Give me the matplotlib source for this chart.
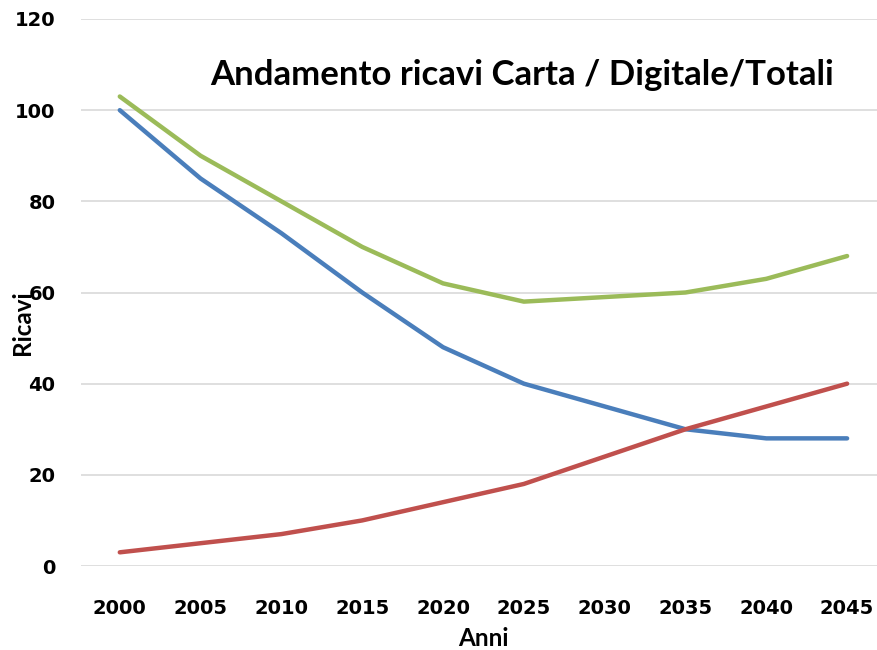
import matplotlib.pyplot as plt

# data
anni = ['2000', '2005', '2010', '2015', '2020', '2025', '2030', '2035', '2040', '2045']
totali = [103, 90, 80, 70, 62, 58, 59, 60, 63, 68]
carta = [100, 85, 73, 60, 48, 40, 35, 30, 28, 28]
digitale = [3, 5, 7, 10, 14, 18, 24, 30, 35, 40]

fig = plt.figure(figsize=(8.77, 6.5), dpi=100)
ax = fig.add_axes([81 / 877, 1 - 566 / 650, 1 - 81 / 877, (566 - 19) / 650])

x = range(len(anni))
ax.plot(x, totali, color='#9bbb59', linewidth=3.2, solid_capstyle='round')
ax.plot(x, carta, color='#4a7ebb', linewidth=3.2, solid_capstyle='round')
ax.plot(x, digitale, color='#c0504d', linewidth=3.2, solid_capstyle='round')

ax.set_xlim(-0.48, 9.37)
ax.set_ylim(0, 120)
ax.set_yticks(range(0, 121, 20))
ax.set_xticks(list(x))
ax.set_xticklabels(anni)
ax.grid(axis='y', color='#d9d9d9', linewidth=1.2)
ax.set_axisbelow(True)
for s in ax.spines.values():
    s.set_visible(False)
ax.tick_params(length=0, labelsize=14)
ax.tick_params(axis='y', pad=18.5)
ax.tick_params(axis='x', pad=24)
for lab in ax.get_xticklabels() + ax.get_yticklabels():
    lab.set_fontweight('bold')

fig.text(522 / 877, 1 - 75 / 650, 'Andamento ricavi Carta / Digitale/Totali',
         ha='center', va='center', fontsize=25, fontweight='bold', family='Lato')
fig.text(22 / 877, 1 - 323 / 650, 'Ricavi', rotation=90, ha='center', va='center',
         fontsize=17.5, fontweight='bold', family='Lato')
fig.text(483 / 877, 1 - 638 / 650, 'Anni', ha='center', va='center',
         fontsize=17.5, fontweight='bold', family='Lato')

fig.savefig('out.png', dpi=100)
